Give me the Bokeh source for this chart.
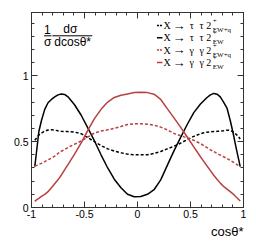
from bokeh.plotting import figure
from bokeh.models import Range1d, SingleIntervalTicker, LinearAxis, Label, Title, ColumnDataSource
from bokeh.embed import file_html
from bokeh.resources import INLINE

# ---------------- data ----------------
cos_theta = [-0.969, -0.95, -0.931, -0.906, -0.875, -0.844, -0.812, -0.781, -0.75, -0.719,
             -0.688, -0.656, -0.625, -0.594, -0.531, -0.469, -0.406, -0.344, -0.281, -0.219,
             -0.156, -0.094, -0.031,
             0.031, 0.094, 0.156, 0.219, 0.281, 0.344, 0.406, 0.469, 0.531, 0.594,
             0.625, 0.656, 0.688, 0.719, 0.75, 0.781, 0.812, 0.844, 0.875, 0.906,
             0.931, 0.95, 0.969]

tautau_ewq = [0.51, 0.53, 0.55, 0.565, 0.58, 0.588, 0.59, 0.587, 0.582, 0.578,
              0.576, 0.576, 0.575, 0.572, 0.56, 0.53, 0.50, 0.47, 0.445, 0.428,
              0.415, 0.405, 0.40,
              0.40, 0.40, 0.41, 0.425, 0.445, 0.465, 0.488, 0.515, 0.54, 0.56,
              0.567, 0.572, 0.575, 0.577, 0.578, 0.58, 0.583, 0.587, 0.585, 0.572,
              0.555, 0.54, 0.52]

tautau_ew = [0.31, 0.44, 0.575, 0.66, 0.745, 0.795, 0.82, 0.84, 0.855, 0.862,
             0.858, 0.84, 0.81, 0.78, 0.70, 0.605, 0.505, 0.40, 0.30, 0.215,
             0.15, 0.10, 0.082,
             0.083, 0.10, 0.135, 0.21, 0.32, 0.43, 0.53, 0.63, 0.72, 0.785,
             0.81, 0.835, 0.855, 0.866, 0.86, 0.84, 0.80, 0.755, 0.66, 0.55,
             0.45, 0.38, 0.31]

gaga_ewq = [0.315, 0.32, 0.327, 0.335, 0.348, 0.362, 0.375, 0.39, 0.41, 0.427,
            0.44, 0.455, 0.468, 0.48, 0.505, 0.535, 0.565, 0.58, 0.59, 0.60,
            0.615, 0.63, 0.635,
            0.635, 0.632, 0.625, 0.61, 0.59, 0.562, 0.545, 0.528, 0.51, 0.485,
            0.47, 0.455, 0.438, 0.425, 0.41, 0.398, 0.385, 0.372, 0.358, 0.343,
            0.33, 0.32, 0.31]

gaga_ew = [0.047, 0.06, 0.07, 0.085, 0.10, 0.12, 0.15, 0.18, 0.21, 0.245,
           0.285, 0.325, 0.365, 0.405, 0.49, 0.585, 0.675, 0.745, 0.80, 0.835,
           0.852, 0.862, 0.872,
           0.875, 0.872, 0.86, 0.82, 0.75, 0.68, 0.61, 0.535, 0.46, 0.385,
           0.35, 0.315, 0.28, 0.245, 0.215, 0.185, 0.16, 0.14, 0.12, 0.10,
           0.08, 0.065, 0.05]

x_tick_values = [-1, -0.5, 0, 0.5, 1]
x_tick_labels = ["-1", "-0.5", "0", "0.5", "1"]
y_tick_values = [0, 0.5, 1]
y_tick_labels = ["0", "0.5", "1"]

legend_process = ["\u03c4 \u03c4", "\u03c4 \u03c4", "\u03b3 \u03b3", "\u03b3 \u03b3"]
legend_sub = ["EW+q", "EW", "EW+q", "EW"]

x_label = "cos\u03b8*"

# ---------------- styling ----------------
RED = "#b8403e"
BLACK = "#000000"
series = [
    (tautau_ewq, BLACK, "3 2"),
    (tautau_ew, BLACK, "solid"),
    (gaga_ewq, RED, "3 2"),
    (gaga_ew, RED, "solid"),
]

Y_MAX = 1.48
p = figure(width=256, height=244, x_range=Range1d(-1, 1), y_range=Range1d(0, Y_MAX),
           output_backend="svg", toolbar_location=None,
           min_border_left=31, min_border_right=13, min_border_top=12, min_border_bottom=37)
p.grid.visible = False
p.outline_line_color = "#333333"
p.background_fill_color = "white"
p.border_fill_color = "white"

AX_COLOR = "#333333"
SANS = "Liberation Sans"
SERIF = "Liberation Serif"


def style_axis(ax, show_labels, standoff):
    ax.ticker = SingleIntervalTicker(interval=0.5, num_minor_ticks=5)
    ax.major_tick_in = 6
    ax.major_tick_out = 0
    ax.minor_tick_in = 3
    ax.minor_tick_out = 0
    ax.axis_line_color = AX_COLOR
    ax.major_tick_line_color = AX_COLOR
    ax.minor_tick_line_color = AX_COLOR
    ax.major_label_standoff = standoff
    ax.major_label_text_font = SANS
    if show_labels:
        ax.major_label_text_font_size = "10.5px"
        ax.major_label_text_color = "#000000"
    else:
        ax.major_label_text_font_size = "0px"
        ax.major_label_text_color = None


style_axis(p.xaxis[0], True, 2)
style_axis(p.yaxis[0], True, 3)
p.xaxis[0].major_label_overrides = {v: s for v, s in zip(x_tick_values, x_tick_labels)}
p.yaxis[0].major_label_overrides = {v: s for v, s in zip(y_tick_values, y_tick_labels)}

top_ax = LinearAxis()
style_axis(top_ax, False, 0)
p.add_layout(top_ax, "above")
right_ax = LinearAxis()
style_axis(right_ax, False, 0)
p.add_layout(right_ax, "right")

# curves
for ys, col, dash in series:
    src = ColumnDataSource(dict(x=cos_theta, y=ys))
    p.line("x", "y", source=src, line_color=col, line_width=1.5, line_dash=dash)

# helpers to place annotations from page-pixel layout
FL, FT, FW, FH = 30.7, 11.7, 212.6, 195.0


def X(px):
    return -1 + (px - FL) * 2.0 / FW


def Y(py):
    return Y_MAX * (FT + FH - py) / FH


def lab(px, py, text, size, font, align="left", baseline="middle"):
    p.add_layout(Label(x=X(px), y=Y(py), text=text, text_font=font,
                       text_font_size=size, text_align=align,
                       text_baseline=baseline, text_color="#000000"))


# y-axis fraction label inside frame
lab(46.7, 28.5, "1", "12px", SANS, "center")
lab(47.0, 41.0, "\u03c3", "12px", SANS, "center")
lab(69.7, 28.5, "d\u03c3", "12px", SANS, "center")
lab(72.0, 41.0, "dcos\u03b8*", "12px", SANS, "center")
p.segment(x0=[X(43.3), X(51.7)], y0=[Y(35), Y(35)], x1=[X(50.7), X(91.7)], y1=[Y(35), Y(35)],
          line_color="#000000", line_width=1)

# legend
row_y = [24.7, 37.0, 49.3, 61.7]
for i, (ys, col, dash) in enumerate(series):
    yy = row_y[i]
    p.line(x=[X(156.5), X(162.0)], y=[Y(yy), Y(yy)], line_color=col, line_width=1.5,
           line_dash="2 1" if dash != "solid" else "solid")
    lab(163.0, yy, "X", "10px", SERIF, "left")
    lab(178.7, yy - 0.5, "\u2192", "13px", SERIF, "center")
    a, b = legend_process[i].split(" ")
    lab(191.3, yy, a, "10px", SERIF, "center")
    lab(201.3, yy, b, "10px", SERIF, "center")
    lab(206.0, yy, "2", "10px", SERIF, "left")
    lab(212.5, yy - 4.5, "+", "7px", SERIF, "left")
    lab(212.5, yy + 4.5, legend_sub[i], "7px", SERIF, "left")

# x-axis title, right aligned under the frame
t = Title(text=x_label, align="right", text_font=SANS, text_font_size="13px",
          text_font_style="normal", standoff=3, text_color="#000000")
p.add_layout(t, "below")

open("out.html", "w").write(file_html(p, INLINE))
